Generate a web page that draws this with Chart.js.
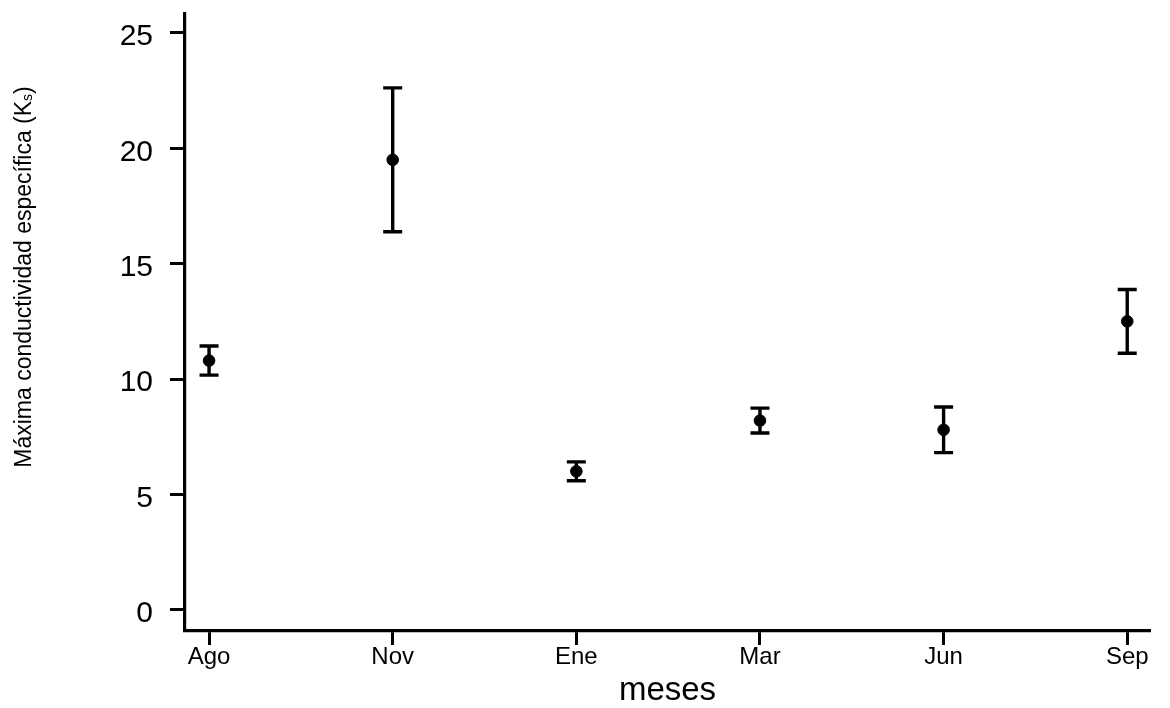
<!DOCTYPE html>
<html>
<head>
<meta charset="utf-8">
<title>Máxima conductividad específica por mes</title>
<script src="https://cdn.jsdelivr.net/npm/chart.js@4.4.1/dist/chart.umd.min.js"></script>
<style>
  html, body { margin: 0; padding: 0; background: #ffffff; }
  #wrap { width: 1170px; height: 708px; }
</style>
</head>
<body>
<div id="wrap"><canvas id="chart" width="1170" height="708"></canvas></div>
<script>
// Months sampled (category order along the x axis)
const months = ['Ago', 'Nov', 'Ene', 'Mar', 'Jun', 'Sep'];
// Mean maximum specific conductivity (Ks) per month
const meanKs = [10.8, 19.5, 6.0, 8.2, 7.8, 12.5];
// Half-length of each error bar
const errKs = [0.63, 3.12, 0.41, 0.54, 0.99, 1.38];
// Tick values of the y axis
const yTicks = [0, 5, 10, 15, 20, 25];

const FONT = '"Liberation Sans", Arial, Helvetica, sans-serif';

// Vertical error bars with caps, drawn beneath the points
const errorBars = {
  id: 'errorBars',
  beforeDatasetsDraw(chart) {
    const { ctx, scales: { x, y } } = chart;
    const cap = 9.5;
    ctx.save();
    ctx.strokeStyle = '#000000';
    ctx.lineWidth = 3.4;
    ctx.lineCap = 'butt';
    meanKs.forEach((m, i) => {
      const px = x.getPixelForValue(i);
      const top = y.getPixelForValue(m + errKs[i]);
      const bot = y.getPixelForValue(m - errKs[i]);
      ctx.beginPath();
      ctx.moveTo(px, top);
      ctx.lineTo(px, bot);
      ctx.moveTo(px - cap, top);
      ctx.lineTo(px + cap, top);
      ctx.moveTo(px - cap, bot);
      ctx.lineTo(px + cap, bot);
      ctx.stroke();
    });
    ctx.restore();
  }
};

// Rotated y-axis title with a subscript "s"
const yTitle = {
  id: 'yTitle',
  afterDraw(chart) {
    const { ctx } = chart;
    const size = 23;
    const subSize = 14;
    const main = 'Máxima conductividad específica (K';
    const sub = 's';
    const close = ')';
    ctx.save();
    ctx.translate(31, 277);
    ctx.rotate(-Math.PI / 2);
    ctx.fillStyle = '#000000';
    ctx.textBaseline = 'alphabetic';
    ctx.textAlign = 'left';
    ctx.font = size + 'px ' + FONT;
    const wMain = ctx.measureText(main).width;
    const wClose = ctx.measureText(close).width;
    ctx.font = subSize + 'px ' + FONT;
    const wSub = ctx.measureText(sub).width;
    const total = wMain + wSub + wClose;
    let cx = -total / 2;
    ctx.font = size + 'px ' + FONT;
    ctx.fillText(main, cx, 0);
    cx += wMain;
    ctx.font = subSize + 'px ' + FONT;
    ctx.fillText(sub, cx, 1);
    cx += wSub;
    ctx.font = size + 'px ' + FONT;
    ctx.fillText(close, cx, 0);
    ctx.restore();
  }
};

new Chart(document.getElementById('chart'), {
  type: 'scatter',
  data: {
    datasets: [{
      data: months.map((m, i) => ({ x: i, y: meanKs[i] })),
      backgroundColor: '#000000',
      borderColor: '#000000',
      borderWidth: 1,
      pointRadius: 5.8,
      pointHoverRadius: 5.8
    }]
  },
  options: {
    responsive: false,
    animation: false,
    events: [],
    layout: { padding: { top: 14, right: 20, left: 0, bottom: 0 } },
    plugins: {
      legend: { display: false },
      tooltip: { enabled: false }
    },
    scales: {
      x: {
        type: 'linear',
        min: -0.131,
        max: 5.124,
        afterBuildTicks: (scale) => { scale.ticks = months.map((m, i) => ({ value: i })); },
        afterFit: (scale) => {
          scale.height = 77;
          scale.paddingLeft = 0;
          scale.paddingRight = 0;
        },
        ticks: {
          color: '#000000',
          padding: 0,
          font: { family: FONT, size: 24, lineHeight: 1.0 },
          maxRotation: 0,
          autoSkip: false,
          callback: (v) => months[v]
        },
        grid: {
          drawOnChartArea: false,
          drawTicks: true,
          tickLength: 14,
          tickWidth: 3,
          tickColor: '#000000'
        },
        border: { display: true, color: '#000000', width: 3.2 },
        title: {
          display: true,
          text: 'meses',
          color: '#000000',
          font: { family: FONT, size: 33, lineHeight: 1.05 },
          padding: { top: 0, bottom: 0 }
        }
      },
      y: {
        type: 'linear',
        min: -0.92,
        max: 25.82,
        afterBuildTicks: (scale) => { scale.ticks = yTicks.map(v => ({ value: v })); },
        afterFit: (scale) => {
          scale.width = 185;
          scale.paddingTop = 0;
          scale.paddingBottom = 0;
        },
        ticks: {
          color: '#000000',
          padding: 17,
          labelOffset: 4,
          font: { family: FONT, size: 30 }
        },
        grid: {
          drawOnChartArea: false,
          drawTicks: true,
          tickLength: 15,
          tickWidth: 3,
          tickColor: '#000000'
        },
        border: { display: true, color: '#000000', width: 3.2 },
        title: { display: false }
      }
    }
  },
  plugins: [errorBars, yTitle]
});
</script>
</body>
</html>
